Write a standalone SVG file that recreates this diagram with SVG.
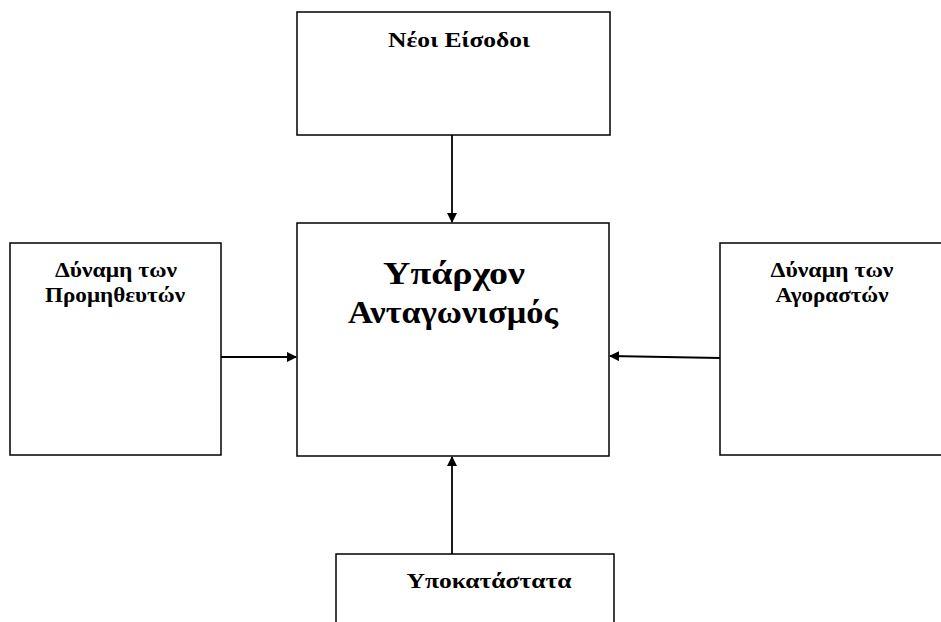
<svg xmlns="http://www.w3.org/2000/svg" width="941" height="622" viewBox="0 0 941 622">
<style>
.box{fill:#fff;stroke:#000;stroke-width:1.5}
.lbl{font-family:"Liberation Serif","Times New Roman","DejaVu Serif",serif;font-weight:bold;font-size:22px;text-anchor:middle;fill:#000}
.big{font-size:32px}
.con{stroke:#000;stroke-width:1.8;fill:none;marker-end:url(#ah)}
</style>
<defs>
<marker id="ah" markerWidth="10" markerHeight="10" refX="9" refY="5" orient="auto" markerUnits="userSpaceOnUse">
<path d="M0,0 L10,5 L0,10 Z" fill="#000"/>
</marker>
</defs>
<rect width="941" height="622" fill="#fff"/>
<g id="node-top">
<rect class="box" x="297" y="12" width="313" height="123"/>
<text class="lbl" x="459" y="47" textLength="142" lengthAdjust="spacingAndGlyphs">Νέοι Είσοδοι</text>
</g>
<g id="node-center">
<rect class="box" x="297" y="223" width="312" height="233"/>
<text class="lbl big" x="454" y="284" textLength="142" lengthAdjust="spacingAndGlyphs">Υπάρχον</text>
<text class="lbl big" x="453" y="323" textLength="210" lengthAdjust="spacingAndGlyphs">Ανταγωνισμός</text>
</g>
<g id="node-left">
<rect class="box" x="10" y="243" width="211" height="212"/>
<text class="lbl" x="116" y="277" textLength="122" lengthAdjust="spacingAndGlyphs">Δύναμη των</text>
<text class="lbl" x="115" y="302" textLength="140" lengthAdjust="spacingAndGlyphs">Προμηθευτών</text>
</g>
<g id="node-right">
<rect class="box" x="720" y="243" width="230" height="212"/>
<text class="lbl" x="832" y="277" textLength="123" lengthAdjust="spacingAndGlyphs">Δύναμη των</text>
<text class="lbl" x="832" y="302" textLength="113" lengthAdjust="spacingAndGlyphs">Αγοραστών</text>
</g>
<g id="node-bottom">
<rect class="box" x="336" y="554" width="278" height="80"/>
<text class="lbl" x="489" y="588" textLength="165" lengthAdjust="spacingAndGlyphs">Υποκατάστατα</text>
</g>
<g id="connectors">
<line class="con" x1="452" y1="135" x2="452" y2="222"/>
<line class="con" x1="221" y1="357" x2="296" y2="357"/>
<line class="con" x1="720" y1="358" x2="610" y2="356"/>
<line class="con" x1="452" y1="554" x2="452" y2="457"/>
</g>
</svg>
